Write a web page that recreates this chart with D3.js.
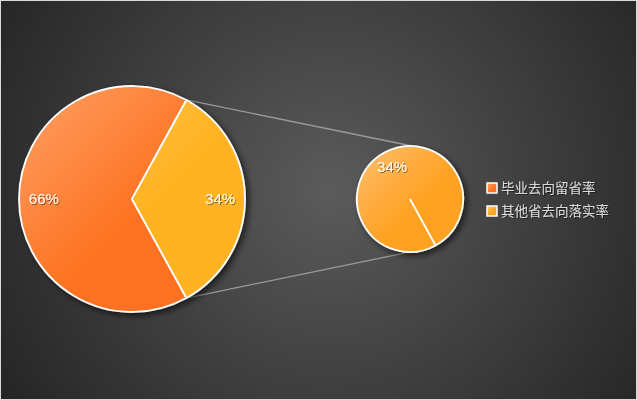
<!DOCTYPE html>
<html>
<head>
<meta charset="utf-8">
<script src="https://cdn.jsdelivr.net/npm/d3@7"></script>
<style>
  body { margin: 0; background: #2a2a2a; }
  svg { display: block; }
</style>
</head>
<body>
<svg id="chart" width="637" height="400"></svg>
<script>
// data
const categories = ["毕业去向留省率", "其他省去向落实率"];
const values = [66, 34];
const secondValues = [34];            // the split-out pie only holds the 34% slice
const colors = ["#fd7220", "#ffb322"];
const lightColors = ["#ffa066", "#ffcc66"];
const secondColor = "#ffa224";
const secondLight = "#ffbf70";

const width = 637, height = 400;
const svg = d3.select("#chart");
const defs = svg.append("defs");

// background
const bg = defs.append("radialGradient").attr("id", "bg")
    .attr("gradientUnits", "userSpaceOnUse")
    .attr("cx", 330).attr("cy", 190).attr("r", 380);
bg.append("stop").attr("offset", "0%").attr("stop-color", "#5b5b5b");
bg.append("stop").attr("offset", "100%").attr("stop-color", "#262626");

svg.append("rect")
    .attr("x", 0.5).attr("y", 0.5)
    .attr("width", width - 1).attr("height", height - 1)
    .attr("fill", "url(#bg)")
    .attr("stroke", "#d9d9d9");

// shadow
const shadow = defs.append("filter").attr("id", "shadow")
    .attr("x", "-20%").attr("y", "-20%").attr("width", "150%").attr("height", "150%");
shadow.append("feDropShadow")
    .attr("dx", 3).attr("dy", 3).attr("stdDeviation", 3)
    .attr("flood-color", "#000").attr("flood-opacity", 0.6);

const textShadow = defs.append("filter").attr("id", "tshadow");
textShadow.append("feDropShadow")
    .attr("dx", 1).attr("dy", 1).attr("stdDeviation", 0.5)
    .attr("flood-color", "#000").attr("flood-opacity", 0.45);

function grad(id, r, light, base) {
    const g = defs.append("linearGradient").attr("id", id)
        .attr("gradientUnits", "userSpaceOnUse")
        .attr("x1", -r).attr("y1", -r)
        .attr("x2", r * 0.1).attr("y2", r * 0.1);
    g.append("stop").attr("offset", "0%").attr("stop-color", light);
    g.append("stop").attr("offset", "100%").attr("stop-color", base);
}

// big pie
const R = 113, cx1 = 132, cy = 199;
const r2 = 53, cx2 = 410;

categories.forEach((c, i) => grad("g" + i, R, lightColors[i], colors[i]));
grad("gs", r2, secondLight, secondColor);

// second slice centred on the right side
const start = Math.PI / 2 + values[1] / 100 * Math.PI;
const pie = d3.pie().sort(null).value(d => d).startAngle(start).endAngle(start + 2 * Math.PI);
const arcs = pie(values);
const arc = d3.arc().innerRadius(0).outerRadius(R);
const labelArc = d3.arc().innerRadius(R * 0.78).outerRadius(R * 0.78);

// connector lines
const yellow = arcs[1];
const pt = a => [cx1 + R * Math.sin(a), cy - R * Math.cos(a)];
const p1 = pt(yellow.startAngle), p2 = pt(yellow.endAngle);
svg.append("line")
    .attr("x1", p1[0]).attr("y1", p1[1]).attr("x2", cx2 + 2).attr("y2", cy - r2)
    .attr("stroke", "#9a9a9a").attr("stroke-width", 1.3);
svg.append("line")
    .attr("x1", p2[0]).attr("y1", p2[1]).attr("x2", cx2).attr("y2", cy + r2)
    .attr("stroke", "#9a9a9a").attr("stroke-width", 1.3);

const g1 = svg.append("g").attr("transform", `translate(${cx1},${cy})`);
g1.append("g").attr("filter", "url(#shadow)")
    .selectAll("path")
    .data(arcs)
    .join("path")
    .attr("d", arc)
    .attr("fill", (d, i) => `url(#g${i})`)
    .attr("stroke", "#fff")
    .attr("stroke-width", 1.8)
    .attr("stroke-linejoin", "round");

g1.selectAll("text")
    .data(arcs)
    .join("text")
    .attr("transform", d => `translate(${labelArc.centroid(d)})`)
    .attr("text-anchor", "middle")
    .attr("dy", "0.35em")
    .attr("font-family", "Liberation Sans, Arial, sans-serif")
    .attr("font-size", 15)
    .attr("fill", "#fff")
    .attr("filter", "url(#tshadow)")
    .text(d => d.data + "%");

// small pie
const pie2 = d3.pie().sort(null).value(d => d).startAngle(start).endAngle(start + 2 * Math.PI);
const arcs2 = pie2(secondValues);
const arc2 = d3.arc().innerRadius(0).outerRadius(r2);
const labelArc2 = d3.arc().innerRadius(r2 * 0.7).outerRadius(r2 * 0.7);

const g2 = svg.append("g").attr("transform", `translate(${cx2},${cy})`);
g2.append("g").attr("filter", "url(#shadow)")
    .selectAll("path")
    .data(arcs2)
    .join("path")
    .attr("d", arc2)
    .attr("fill", "url(#gs)")
    .attr("stroke", "#fff")
    .attr("stroke-width", 1.8);

g2.selectAll("line")
    .data(arcs2)
    .join("line")
    .attr("x1", 0).attr("y1", 0)
    .attr("x2", d => r2 * Math.sin(d.startAngle))
    .attr("y2", d => -r2 * Math.cos(d.startAngle))
    .attr("stroke", "#fff").attr("stroke-width", 1.8);

g2.selectAll("text")
    .data(arcs2)
    .join("text")
    .attr("transform", d => `translate(${labelArc2.centroid(d)})`)
    .attr("text-anchor", "middle")
    .attr("dy", "0.35em")
    .attr("font-family", "Liberation Sans, Arial, sans-serif")
    .attr("font-size", 15)
    .attr("fill", "#fff")
    .attr("filter", "url(#tshadow)")
    .text(d => d.data + "%");

// legend
const legendY = d3.scalePoint().domain(categories).range([188, 211]);
const legend = svg.append("g").selectAll("g")
    .data(categories)
    .join("g")
    .attr("transform", d => `translate(487,${legendY(d)})`);

legend.append("rect")
    .attr("x", 0).attr("y", -5)
    .attr("width", 10).attr("height", 10)
    .attr("fill", (d, i) => `url(#lg${i})`)
    .attr("stroke", "#fff").attr("stroke-width", 1.5);

categories.forEach((c, i) => {
    const g = defs.append("linearGradient").attr("id", "lg" + i)
        .attr("x1", 0).attr("y1", 0).attr("x2", 1).attr("y2", 1);
    g.append("stop").attr("offset", "0%").attr("stop-color", lightColors[i]);
    g.append("stop").attr("offset", "60%").attr("stop-color", i === 0 ? colors[0] : secondColor);
});

legend.append("text")
    .attr("x", 14)
    .attr("dy", "0.36em")
    .attr("font-family", "Noto Sans CJK SC, sans-serif")
    .attr("font-size", 13.5)
    .attr("fill", "#d9d9d9")
    .attr("filter", "url(#tshadow)")
    .text(d => d);
</script>
</body>
</html>
